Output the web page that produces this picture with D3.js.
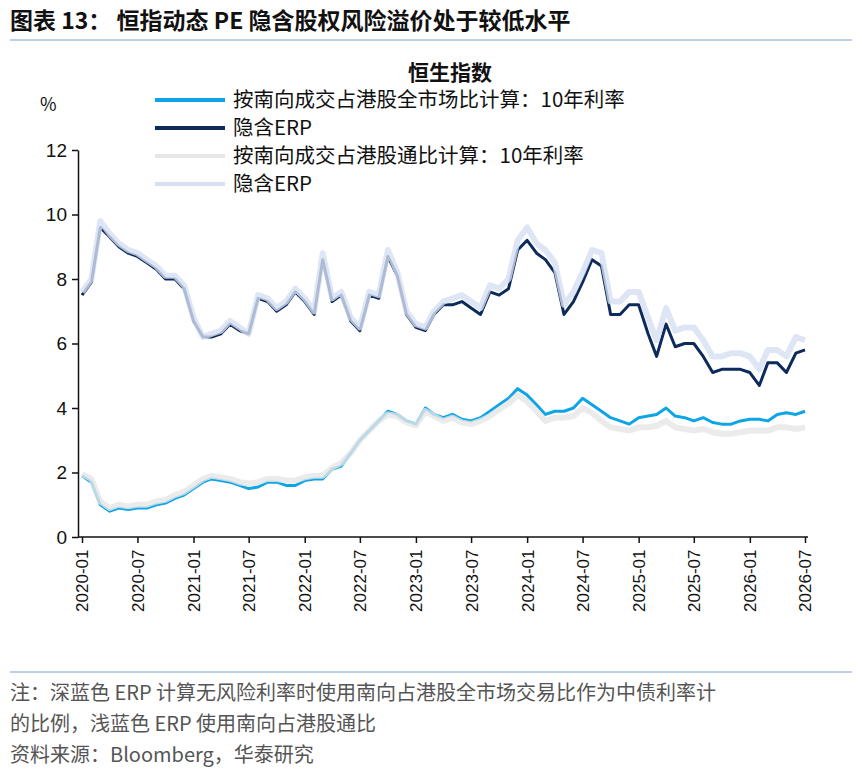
<!DOCTYPE html>
<html><head><meta charset="utf-8">
<script src="https://cdn.jsdelivr.net/npm/d3@7"></script>
<style>
body{margin:0;background:#fff;font-family:"Noto Sans CJK SC","Liberation Sans",sans-serif;}
</style></head>
<body><div id="chart"></div>
<script>
// 月度数据 2020-01 .. 2026-07
const months = d3.timeMonths(new Date(2020,0,1), new Date(2026,7,1));
const erpDark = [7.5,7.9,9.6,9.3,9.0,8.8,8.7,8.5,8.3,8.0,8.0,7.7,
  6.7,6.2,6.2,6.3,6.6,6.4,6.3,7.4,7.3,7.0,7.2,7.6,
  7.3,6.9,8.6,7.3,7.5,6.7,6.4,7.5,7.4,8.7,8.1,6.9,
  6.5,6.4,6.9,7.2,7.2,7.3,7.1,6.9,7.6,7.5,7.7,8.9,
  9.2,8.8,8.6,8.2,6.9,7.3,7.9,8.6,8.4,6.9,6.9,7.2,
  7.2,6.3,5.6,6.6,5.9,6.0,6.0,5.6,5.1,5.2,5.2,5.2,
  5.1,4.7,5.4,5.4,5.1,5.7,5.8];
const erpLight = [7.6,8.0,9.8,9.4,9.1,8.9,8.8,8.6,8.4,8.1,8.1,7.8,
  6.8,6.2,6.3,6.4,6.7,6.5,6.3,7.5,7.4,7.1,7.3,7.7,
  7.4,7.0,8.8,7.4,7.6,6.8,6.5,7.6,7.5,8.9,8.2,7.0,
  6.6,6.5,7.0,7.3,7.4,7.5,7.3,7.1,7.8,7.7,8.0,9.2,
  9.6,9.1,8.9,8.5,7.2,7.6,8.2,8.9,8.8,7.3,7.3,7.6,
  7.6,6.8,6.1,7.1,6.4,6.5,6.5,6.1,5.6,5.6,5.7,5.7,
  5.6,5.2,5.8,5.8,5.6,6.2,6.1];
const rateDark = [1.9,1.7,1.0,0.8,0.9,0.85,0.9,0.9,1.0,1.05,1.2,1.3,
  1.5,1.7,1.8,1.75,1.7,1.6,1.5,1.55,1.7,1.7,1.6,1.6,
  1.75,1.8,1.8,2.1,2.2,2.6,3.0,3.3,3.6,3.9,3.8,3.6,
  3.5,4.0,3.8,3.7,3.8,3.65,3.6,3.7,3.9,4.1,4.3,4.6,
  4.4,4.1,3.8,3.9,3.9,4.0,4.3,4.1,3.9,3.7,3.6,3.5,
  3.7,3.75,3.8,4.0,3.75,3.7,3.6,3.7,3.55,3.5,3.5,3.6,
  3.65,3.65,3.6,3.8,3.85,3.8,3.9];
const rateLight = [1.95,1.8,1.1,0.9,1.0,0.95,1.0,1.0,1.1,1.15,1.3,1.4,
  1.6,1.8,1.9,1.85,1.8,1.7,1.65,1.7,1.8,1.8,1.75,1.75,
  1.85,1.9,1.9,2.15,2.3,2.6,3.0,3.3,3.6,3.8,3.75,3.55,
  3.45,3.9,3.75,3.6,3.7,3.55,3.5,3.6,3.75,3.95,4.15,4.4,
  4.2,3.9,3.6,3.7,3.7,3.75,4.0,3.85,3.6,3.4,3.35,3.3,
  3.4,3.4,3.45,3.6,3.4,3.35,3.3,3.35,3.25,3.2,3.2,3.25,
  3.3,3.3,3.3,3.4,3.4,3.35,3.4];
const yTicks = [0,2,4,6,8,10,12];
const legendNames = ["按南向成交占港股全市场比计算：10年利率","隐含ERP","按南向成交占港股通比计算：10年利率","隐含ERP"];
const legendColors = ["#0ea5e6","#0d2a5c","#e6e6e6","#d6e0f2"];

const W = 862, H = 778;
const svg = d3.select("#chart").append("svg").attr("width", W).attr("height", H);

svg.append("text").attr("x", 10).attr("y", 29).attr("font-size", 23).attr("font-weight", "bold")
  .attr("fill", "#111").text("图表 13：  恒指动态 PE 隐含股权风险溢价处于较低水平");
svg.append("line").attr("x1", 10).attr("x2", 852).attr("y1", 40).attr("y2", 40)
  .attr("stroke", "#7aa0c8").attr("stroke-width", 1);

const x = d3.scaleTime().domain([months[0], months[months.length - 1]]).range([82, 805]);
const y = d3.scaleLinear().domain([0, 12]).range([537, 150]);

const g = svg.append("g");
g.append("g").attr("transform", "translate(78,0)")
  .call(d3.axisLeft(y).tickValues(yTicks).tickSize(6).tickSizeOuter(0))
  .call(a => a.selectAll("text").attr("font-size", 19).attr("font-family", "Liberation Sans").attr("fill", "#111").attr("dx", -2))
  .call(a => a.selectAll("path,line").attr("stroke", "#111").attr("stroke-width", 1.5));
const xTicks = d3.timeMonths(months[0], new Date(2026,7,1), 6);
g.append("g").attr("transform", "translate(0,537)")
  .call(d3.axisBottom(x).tickValues(xTicks).tickFormat(d3.timeFormat("%Y-%m")).tickSize(6).tickSizeOuter(0))
  .call(a => a.select("path").attr("d", "M78,0H808"))
  .call(a => a.selectAll("path,line").attr("stroke", "#111").attr("stroke-width", 1.5))
  .call(a => a.selectAll("text").attr("font-size", 17).attr("font-family", "Liberation Sans").attr("fill", "#111")
    .attr("transform", "rotate(-90)").attr("text-anchor", "end").attr("dx", "-0.5em").attr("dy", "0.35em").attr("x", -4).attr("y", 0));

const line = d3.line().x((d, i) => x(months[i])).y(d => y(d)).curve(d3.curveLinear);
const series = [[erpDark,1,3],[rateDark,0,3],[erpLight,3,6],[rateLight,2,6]];
series.forEach(([arr, ci, w]) => {
  g.append("path").datum(arr).attr("d", line).attr("fill", "none")
    .attr("stroke", legendColors[ci]).attr("stroke-width", w).attr("stroke-linejoin", "round")
    .attr("opacity", ci >= 2 ? 0.8 : 1);
});

svg.append("text").attr("x", 450).attr("y", 80).attr("text-anchor", "middle").attr("font-size", 21)
  .attr("font-weight", "bold").attr("fill", "#111").text("恒生指数");
svg.append("text").attr("x", 40).attr("y", 111).attr("font-size", 18).attr("fill", "#111").text("%");

legendNames.forEach((n, i) => {
  const ly = 100 + i * 28;
  svg.append("line").attr("x1", 155).attr("x2", 225).attr("y1", ly).attr("y2", ly)
    .attr("stroke", legendColors[i]).attr("stroke-width", 4);
  svg.append("text").attr("x", 233).attr("y", ly + 7).attr("font-size", 20.5).attr("fill", "#111").text(n);
});

svg.append("line").attr("x1", 10).attr("x2", 852).attr("y1", 672).attr("y2", 672)
  .attr("stroke", "#7aa0c8").attr("stroke-width", 1);
const notes = ["注：深蓝色 ERP 计算无风险利率时使用南向占港股全市场交易比作为中债利率计",
  "的比例，浅蓝色 ERP 使用南向占港股通比", "资料来源：Bloomberg，华泰研究"];
notes.forEach((t, i) => svg.append("text").attr("x", 10).attr("y", 700 + i * 31)
  .attr("font-size", 20).attr("fill", "#555").text(t));
</script></body></html>
